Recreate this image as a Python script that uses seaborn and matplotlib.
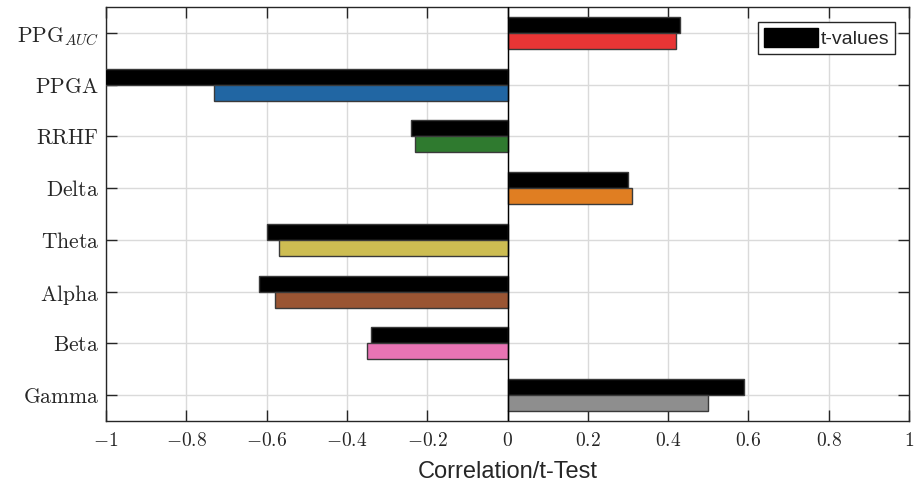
import matplotlib
matplotlib.use("Agg")
import matplotlib.pyplot as plt
import seaborn as sns
import pandas as pd
from matplotlib.patches import Patch
from matplotlib.ticker import FixedLocator, FuncFormatter

categories = [r"$\mathrm{PPG}_{AUC}$", r"$\mathrm{PPGA}$", r"$\mathrm{RRHF}$", r"$\mathrm{Delta}$",
              r"$\mathrm{Theta}$", r"$\mathrm{Alpha}$", r"$\mathrm{Beta}$", r"$\mathrm{Gamma}$"]
t_values = [0.43, -1.05, -0.24, 0.30, -0.60, -0.62, -0.34, 0.59]
correlation = [0.42, -0.73, -0.23, 0.31, -0.57, -0.58, -0.35, 0.50]
corr_colors = ["#e83535", "#2166a3", "#2f7a2f", "#e07e22", "#cdbd52", "#9a5533", "#e874b4", "#8e8e8e"]
x_ticks = [-1, -0.8, -0.6, -0.4, -0.2, 0, 0.2, 0.4, 0.6, 0.8, 1]

sns.set_theme(style="white")
plt.rcParams["mathtext.fontset"] = "cm"
plt.rcParams["font.family"] = ["Liberation Sans", "DejaVu Sans"]

df = pd.DataFrame({
    "cat": categories * 2,
    "val": t_values + correlation,
    "kind": ["t-values"] * len(categories) + ["corr"] * len(categories),
})

fig = plt.figure(figsize=(9.16, 4.88), dpi=100)
ax = fig.add_axes([106 / 916, 1 - 421 / 488, (909 - 106) / 916, (421 - 7) / 488])

sns.barplot(data=df, x="val", y="cat", hue="kind", hue_order=["t-values", "corr"],
            palette=["black", "#888888"], orient="h", width=0.62, ax=ax,
            errorbar=None, legend=False, edgecolor="#3a3a3a", linewidth=1.0, zorder=3)

n = len(categories)
for i, p in enumerate(ax.patches[n:2 * n]):
    p.set_facecolor(corr_colors[i])

ax.set_xlim(-1, 1)
ax.set_ylim(n - 0.5, -0.5)
ax.axvline(0, color="black", lw=1.0, zorder=4)

ax.xaxis.set_major_locator(FixedLocator(x_ticks))
ax.xaxis.set_major_formatter(FuncFormatter(lambda v, p: f"${v:g}$"))
ax.grid(True, color="#dadada", lw=1.0, zorder=0)
ax.set_axisbelow(True)

ax.tick_params(axis="both", direction="in", length=8, width=1, color="#262626",
               top=True, right=True, bottom=True, left=True)
ax.tick_params(axis="y", labelsize=15.5, colors="#262626", labelcolor="#262626", pad=5)
ax.tick_params(axis="x", labelsize=14, colors="#262626", labelcolor="#262626", pad=8)
for s in ax.spines.values():
    s.set_visible(True)
    s.set_color("#262626")
    s.set_linewidth(1.0)

ax.set_ylabel("")
ax.set_xlabel("Correlation/t-Test", fontsize=17, color="#262626", labelpad=8)

leg = ax.legend(handles=[Patch(facecolor="black", edgecolor="black")], labels=["t-values"],
                loc="upper right", bbox_to_anchor=(0.983, 0.964), fontsize=14,
                frameon=True, fancybox=False, edgecolor="#262626", framealpha=1,
                handlelength=2.8, handleheight=1.15, handletextpad=0.15, borderpad=0.3,
                borderaxespad=0.0)
leg.get_frame().set_linewidth(1.0)

fig.savefig("out.png", dpi=100)
